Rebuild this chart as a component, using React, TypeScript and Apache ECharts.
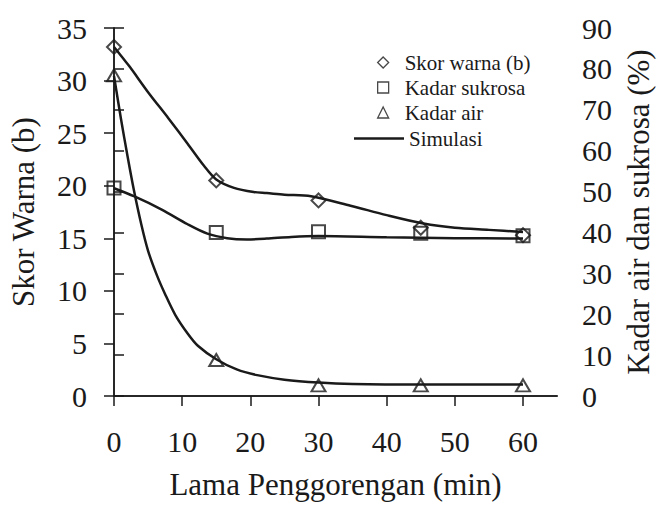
import React, { useEffect, useRef } from "react";
import * as echarts from "echarts";

// Observed data
const timeObs = [0, 15, 30, 45, 60];
const warnaObs = [33.2, 20.5, 18.6, 16.0, 15.3]; // left axis
const sukrosaObs = [50.9, 40.0, 40.2, 39.8, 39.2]; // right axis (%)
const airObs = [78.4, 8.8, 2.6, 2.6, 2.6]; // right axis (%)

// Simulation curves
const warnaSimX = [0, 2.2, 5, 8, 10.8, 13.2, 15, 17.6, 20.5, 22.4, 25, 28.9, 34.7, 40, 45.4, 50, 55, 60];
const warnaSimY = [33.2, 31.4, 28.9, 26.4, 24.0, 21.9, 20.6, 19.8, 19.4, 19.3, 19.15, 19.0, 18.1, 17.2, 16.4, 16.0, 15.8, 15.6];
const sukrosaSimX = [0, 3, 7, 10.8, 13.7, 16.6, 19.5, 22.4, 26, 30, 40, 50, 60];
const sukrosaSimY = [50.8, 48.8, 45.6, 42.0, 39.7, 38.6, 38.3, 38.5, 38.9, 39.1, 38.8, 38.6, 38.5];
const airSimX = [0, 1, 2, 2.9, 4, 5, 6.3, 7.5, 9, 10.8, 12.3, 15, 18, 21, 25, 30, 35, 45, 60];
const airSimY = [78.3, 68, 58.5, 50.5, 42, 35.5, 29.5, 24.9, 19.8, 15.3, 12.3, 9.0, 6.5, 5.1, 4.0, 3.3, 2.95, 2.8, 2.8];

const xTicks = [0, 10, 20, 30, 40, 50, 60];

const FONT = "Liberation Serif";
const INK = "#1a1a1a";

const zip = (xs: number[], ys: number[]) => xs.map((x, i) => [x, ys[i]]);

function buildOption() {
  const markerStyle = { color: "rgba(255,255,255,0)", borderColor: INK, borderWidth: 2 };
  const simLine = { color: INK, width: 2.5 };
  return {
    animation: false,
    backgroundColor: "#fff",
    textStyle: { fontFamily: FONT },
    grid: { left: 110, right: 102, top: 28, bottom: 101, containLabel: false },
    legend: [
      {
        orient: "vertical",
        left: 372,
        top: 47,
        itemWidth: 11,
        itemHeight: 11,
        itemGap: 4,
        data: ["Skor warna (b)", "Kadar sukrosa", "Kadar air"],
        textStyle: { fontFamily: FONT, fontSize: 21, color: INK, padding: [0, 0, 0, 11] },
        itemStyle: { borderWidth: 1.3 },
      },
      {
        orient: "vertical",
        left: 349,
        top: 123,
        itemWidth: 50,
        itemHeight: 2.5,
        data: [{ name: "Simulasi", icon: "rect" }],
        textStyle: { fontFamily: FONT, fontSize: 21, color: INK },
      },
    ],
    xAxis: [
      {
        type: "value",
        min: 0,
        max: 65,
        interval: 10,
        name: "Lama Penggorengan (min)",
        nameLocation: "middle",
        nameGap: 73,
        nameTextStyle: { fontFamily: FONT, fontSize: 31, color: INK },
        axisLine: { show: true, lineStyle: { color: INK, width: 1.5 } },
        axisTick: { show: true, length: 10, lineStyle: { color: INK, width: 1.5 }, customValues: xTicks },
        axisLabel: { fontFamily: FONT, fontSize: 30, color: INK, margin: 30, customValues: xTicks },
        splitLine: { show: false },
      },
      {
        type: "value",
        position: "top",
        min: 0,
        max: 65,
        axisLine: { show: true, lineStyle: { color: INK, width: 1.5 } },
        axisTick: { show: false },
        axisLabel: { show: false },
        splitLine: { show: false },
      },
    ],
    yAxis: [
      {
        type: "value",
        position: "left",
        min: 0,
        max: 35,
        interval: 5,
        name: "Skor Warna (b)",
        nameLocation: "middle",
        nameGap: 75,
        nameTextStyle: { fontFamily: FONT, fontSize: 31, color: INK },
        axisLine: { show: true, lineStyle: { color: INK, width: 1.5 } },
        axisTick: { show: true, length: 10, lineStyle: { color: INK, width: 1.5 } },
        axisLabel: { fontFamily: FONT, fontSize: 30, color: INK, margin: 27 },
        splitLine: { show: false },
      },
      {
        type: "value",
        position: "right",
        min: 0,
        max: 90,
        interval: 10,
        name: "Kadar air dan sukrosa (%)",
        nameLocation: "middle",
        nameGap: 65,
        nameRotate: 90,
        nameTextStyle: { fontFamily: FONT, fontSize: 31, color: INK },
        axisLine: { show: true, lineStyle: { color: INK, width: 1.5 } },
        axisTick: { show: true, length: 10, lineStyle: { color: INK, width: 1.5 } },
        axisLabel: { fontFamily: FONT, fontSize: 30, color: INK, margin: 25 },
        splitLine: { show: false },
      },
    ],
    series: [
      {
        name: "Simulasi",
        type: "line",
        yAxisIndex: 0,
        data: zip(warnaSimX, warnaSimY),
        smooth: 0.3,
        showSymbol: false,
        symbol: "none",
        lineStyle: simLine,
        itemStyle: { color: INK },
        z: 2,
      },
      {
        name: "Simulasi",
        type: "line",
        yAxisIndex: 1,
        data: zip(sukrosaSimX, sukrosaSimY),
        smooth: 0.3,
        showSymbol: false,
        symbol: "none",
        lineStyle: simLine,
        itemStyle: { color: INK },
        z: 2,
      },
      {
        name: "Simulasi",
        type: "line",
        yAxisIndex: 1,
        data: zip(airSimX, airSimY),
        smooth: 0.3,
        showSymbol: false,
        symbol: "none",
        lineStyle: simLine,
        itemStyle: { color: INK },
        z: 2,
      },
      {
        name: "Skor warna (b)",
        type: "scatter",
        yAxisIndex: 0,
        symbol: "diamond",
        symbolSize: 14,
        data: zip(timeObs, warnaObs),
        itemStyle: markerStyle,
        z: 3,
      },
      {
        name: "Kadar sukrosa",
        type: "scatter",
        yAxisIndex: 1,
        symbol: "rect",
        symbolSize: 13,
        data: zip(timeObs, sukrosaObs),
        itemStyle: markerStyle,
        z: 3,
      },
      {
        name: "Kadar air",
        type: "scatter",
        yAxisIndex: 1,
        symbol: "triangle",
        symbolSize: [14, 12],
        data: zip(timeObs, airObs),
        itemStyle: markerStyle,
        z: 3,
      },
    ],
  };
}

export default function App() {
  const ref = useRef<HTMLDivElement>(null);
  useEffect(() => {
    document.body.style.margin = "0";
    if (!ref.current) return;
    const chart = echarts.init(ref.current, undefined, { renderer: "svg" });
    chart.setOption(buildOption());
    let alive = true;
    const fonts = (document as any).fonts;
    if (fonts && fonts.load) {
      fonts.load('30px "Liberation Serif"').then(() => {
        if (alive) chart.setOption(buildOption(), true);
      }).catch(() => {});
    }
    return () => {
      alive = false;
      chart.dispose();
    };
  }, []);
  return (
    <div style={{ position: "relative" }}>
      <span aria-hidden="true" style={{ position: "absolute", left: 0, top: 0, fontFamily: FONT, fontSize: 12, color: "transparent", pointerEvents: "none" }}>{"\u00a0"}</span>
      <div ref={ref} style={{ width: 662, height: 505 }} />
    </div>
  );
}
